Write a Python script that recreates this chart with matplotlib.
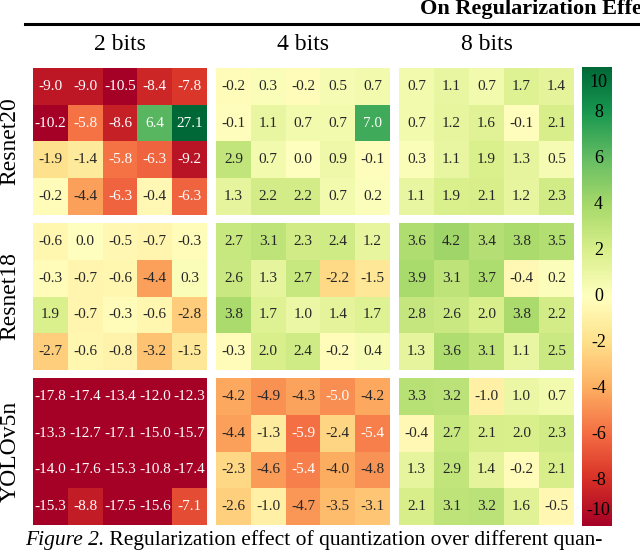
import numpy as np
import matplotlib
matplotlib.use("Agg")
import matplotlib.pyplot as plt
import seaborn as sns
from matplotlib.colors import Normalize
from matplotlib.cm import ScalarMappable

plt.rcParams['font.family'] = ['Liberation Serif', 'DejaVu Serif']

models = ["Resnet20", "Resnet18", "YOLOv5n"]
bit_labels = ["2 bits", "4 bits", "8 bits"]
cbar_ticks = [10, 8, 6, 4, 2, 0, -2, -4, -6, -8, -10]

resnet20_2bit = [[-9.0, -9.0, -10.5, -8.4, -7.8],
                 [-10.2, -5.8, -8.6, 6.4, 27.1],
                 [-1.9, -1.4, -5.8, -6.3, -9.2],
                 [-0.2, -4.4, -6.3, -0.4, -6.3]]
resnet20_4bit = [[-0.2, 0.3, -0.2, 0.5, 0.7],
                 [-0.1, 1.1, 0.7, 0.7, 7.0],
                 [2.9, 0.7, 0.0, 0.9, -0.1],
                 [1.3, 2.2, 2.2, 0.7, 0.2]]
resnet20_8bit = [[0.7, 1.1, 0.7, 1.7, 1.4],
                 [0.7, 1.2, 1.6, -0.1, 2.1],
                 [0.3, 1.1, 1.9, 1.3, 0.5],
                 [1.1, 1.9, 2.1, 1.2, 2.3]]
resnet18_2bit = [[-0.6, 0.0, -0.5, -0.7, -0.3],
                 [-0.3, -0.7, -0.6, -4.4, 0.3],
                 [1.9, -0.7, -0.3, -0.6, -2.8],
                 [-2.7, -0.6, -0.8, -3.2, -1.5]]
resnet18_4bit = [[2.7, 3.1, 2.3, 2.4, 1.2],
                 [2.6, 1.3, 2.7, -2.2, -1.5],
                 [3.8, 1.7, 1.0, 1.4, 1.7],
                 [-0.3, 2.0, 2.4, -0.2, 0.4]]
resnet18_8bit = [[3.6, 4.2, 3.4, 3.8, 3.5],
                 [3.9, 3.1, 3.7, -0.4, 0.2],
                 [2.8, 2.6, 2.0, 3.8, 2.2],
                 [1.3, 3.6, 3.1, 1.1, 2.5]]
yolov5n_2bit = [[-17.8, -17.4, -13.4, -12.0, -12.3],
                [-13.3, -12.7, -17.1, -15.0, -15.7],
                [-14.0, -17.6, -15.3, -10.8, -17.4],
                [-15.3, -8.8, -17.5, -15.6, -7.1]]
yolov5n_4bit = [[-4.2, -4.9, -4.3, -5.0, -4.2],
                [-4.4, -1.3, -5.9, -2.4, -5.4],
                [-2.3, -4.6, -5.4, -4.0, -4.8],
                [-2.6, -1.0, -4.7, -3.5, -3.1]]
yolov5n_8bit = [[3.3, 3.2, -1.0, 1.0, 0.7],
                [-0.4, 2.7, 2.1, 2.0, 2.3],
                [1.3, 2.9, 1.4, -0.2, 2.1],
                [2.1, 3.1, 3.2, 1.6, -0.5]]

grid = [[resnet20_2bit, resnet20_4bit, resnet20_8bit],
        [resnet18_2bit, resnet18_4bit, resnet18_8bit],
        [yolov5n_2bit, yolov5n_4bit, yolov5n_8bit]]

W, H = 640, 550
fig = plt.figure(figsize=(W / 100, H / 100), dpi=100)

col_x = [(33, 207), (216, 390), (399, 574)]
row_y = [(68, 215), (223, 370), (378, 525)]

def rect(x0, x1, y0, y1):
    return [x0 / W, 1 - y1 / H, (x1 - x0) / W, (y1 - y0) / H]

for r in range(3):
    for c in range(3):
        ax = fig.add_axes(rect(col_x[c][0], col_x[c][1], row_y[r][0], row_y[r][1]))
        sns.heatmap(np.array(grid[r][c]), ax=ax, cmap="RdYlGn", vmin=-10, vmax=10,
                    annot=True, fmt=".1f", cbar=False,
                    annot_kws={"fontsize": 11}, xticklabels=False, yticklabels=False)
        ax.set_xticks([])
        ax.set_yticks([])
        for s in ax.spines.values():
            s.set_visible(False)

# row labels
for r, name in enumerate(models):
    yc = (row_y[r][0] + row_y[r][1]) / 2
    fig.text(10 / W, 1 - yc / H, name, rotation=90, ha="center", va="center",
             fontsize=17)

# column headers
for c, lab in enumerate(bit_labels):
    xc = (col_x[c][0] + col_x[c][1]) / 2
    fig.text(xc / W, 1 - 45 / H, lab, ha="center", va="center", fontsize=17)

# top rule and title
fig.add_artist(plt.Line2D([25 / W, 1.0], [1 - 24 / H, 1 - 24 / H],
                          color="black", linewidth=2.2))
fig.text(420 / W, 1 - 9 / H, "On Regularization Effect", ha="left", va="center",
         fontsize=16, fontweight="bold")

# colorbar
cax = fig.add_axes(rect(582, 612, 67, 526))
sm = ScalarMappable(norm=Normalize(-10, 10), cmap="RdYlGn")
cb = fig.colorbar(sm, cax=cax)
cb.outline.set_visible(False)
cax.set_yticks([])
for v in cbar_ticks:
    if v == 10:
        va, y = "top", 9.7
    elif v == -10:
        va, y = "bottom", -9.7
    else:
        va, y = "center", v
    cax.text(0.55, y, str(v), transform=cax.get_yaxis_transform(),
             ha="center", va=va, fontsize=13, color="black")

# caption
cap_y = 1 - 545 / H
t1 = fig.text(25 / W, cap_y, "Figure 2.", ha="left", va="baseline",
              fontsize=15.5, style="italic")
fig.canvas.draw()
bb = t1.get_window_extent()
fig.text(bb.x1 / W, cap_y, " Regularization effect of quantization over different quan-",
         ha="left", va="baseline", fontsize=15.5)

fig.savefig("out.png", dpi=100)
